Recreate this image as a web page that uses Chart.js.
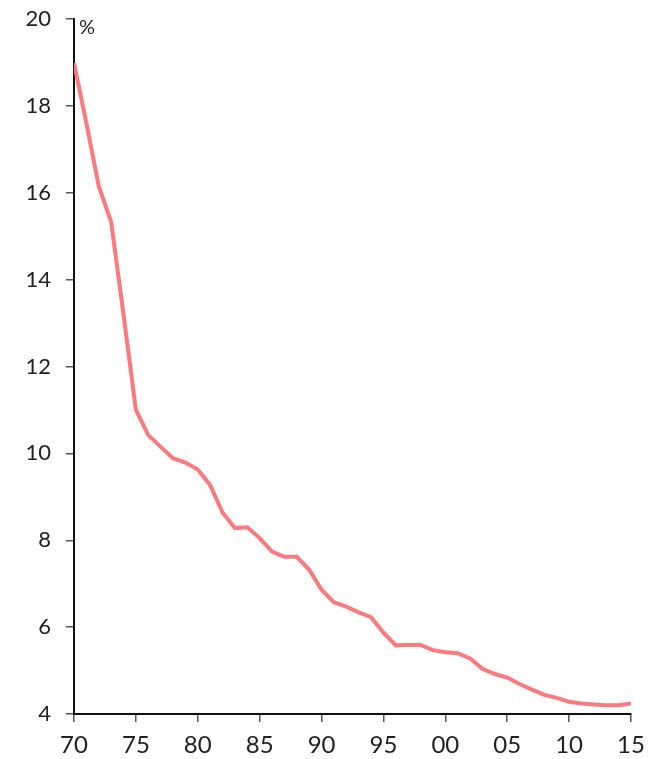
<!DOCTYPE html>
<html>
<head>
<meta charset="utf-8">
<script src="https://cdn.jsdelivr.net/npm/chart.js@4"></script>
<style>
  html, body { margin: 0; padding: 0; background: #fff; }
  #wrap { width: 670px; height: 759px; position: relative; }
</style>
</head>
<body>
<div id="wrap"><canvas id="c" width="670" height="759"></canvas></div>
<script>
const years = [1970,1971,1972,1973,1974,1975,1976,1977,1978,1979,1980,1981,1982,1983,1984,1985,1986,1987,1988,1989,1990,1991,1992,1993,1994,1995,1996,1997,1998,1999,2000,2001,2002,2003,2004,2005,2006,2007,2008,2009,2010,2011,2012,2013,2014,2015];
const values = [18.99,17.6,16.15,15.33,13.2,11.0,10.42,10.15,9.89,9.79,9.63,9.27,8.64,8.28,8.30,8.05,7.74,7.62,7.62,7.32,6.86,6.57,6.47,6.34,6.23,5.87,5.58,5.59,5.59,5.47,5.42,5.40,5.28,5.04,4.92,4.84,4.69,4.56,4.44,4.37,4.28,4.24,4.22,4.20,4.20,4.24];
const unitLabel = '%';

const points = years.map((y, i) => ({ x: y, y: values[i] }));

const unitPlugin = {
  id: 'unitLabel',
  afterDraw(chart) {
    const ctx = chart.ctx;
    const a = chart.chartArea;
    ctx.save();
    ctx.fillStyle = '#222';
    ctx.font = '20px Lato';
    ctx.textAlign = 'left';
    ctx.textBaseline = 'top';
    ctx.fillText(unitLabel, a.left + 5, a.top - 1);
    ctx.restore();
  }
};

new Chart(document.getElementById('c'), {
  type: 'line',
  data: {
    datasets: [{
      data: points,
      borderColor: '#fc7a7e',
      borderWidth: 4,
      pointRadius: 0,
      tension: 0,
      fill: false
    }]
  },
  options: {
    responsive: false,
    animation: false,
    layout: { padding: { top: 19, right: 39, left: 0, bottom: 0 } },
    plugins: { legend: { display: false }, tooltip: { enabled: false } },
    scales: {
      x: {
        type: 'linear',
        min: 1970,
        max: 2015,
        afterFit(s) { s.height = 45; s.paddingLeft = 0; s.paddingRight = 0; },
        afterBuildTicks(s) {
          const t = [];
          for (let v = 1970; v <= 2015; v += 5) t.push({ value: v });
          s.ticks = t;
        },
        ticks: {
          color: '#222',
          font: { family: 'Lato', size: 24 },
          padding: 9,
          maxRotation: 0,
          autoSkip: false,
          callback: v => String(v % 100).padStart(2, '0')
        },
        grid: { display: true, drawOnChartArea: false, drawTicks: true, tickLength: 8, color: '#555', lineWidth: 1.5 },
        border: { display: true, color: '#111', width: 2 }
      },
      y: {
        min: 4,
        max: 20,
        afterFit(s) { s.width = 74; s.paddingTop = 0; s.paddingBottom = 0; },
        ticks: {
          stepSize: 2,
          color: '#222',
          font: { family: 'Lato', size: 22 },
          padding: 15
        },
        grid: { display: true, drawOnChartArea: false, drawTicks: true, tickLength: 8, color: '#555', lineWidth: 1.5 },
        border: { display: true, color: '#111', width: 2 }
      }
    }
  },
  plugins: [unitPlugin]
});
</script>
</body>
</html>
